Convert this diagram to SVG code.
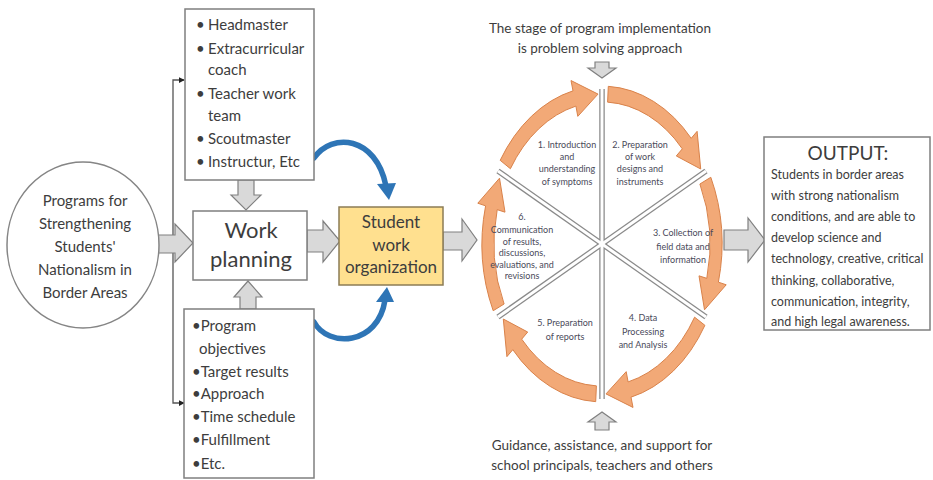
<svg xmlns="http://www.w3.org/2000/svg" width="933" height="480" viewBox="0 0 933 480">
<style>
text{font-family:Lato,"Liberation Sans",sans-serif;fill:#3d3d3d}
.box{fill:#fff;stroke:#7f7f7f;stroke-width:1.5}
.blk{fill:#d9d9d9;stroke:#808080;stroke-width:1.2}
.ln{fill:none;stroke:#555;stroke-width:1.3}
.blue{fill:none;stroke:#2e75b6;stroke-width:5.5;stroke-linecap:round}
.bh{fill:#2e75b6}
.seg{fill:#f2a977;stroke:#d9824a;stroke-width:1}
.spk{stroke:#8a8a8a;stroke-width:5.5}
.spw{stroke:#fff;stroke-width:3}
.st{font-size:9px;text-anchor:middle;fill:#4a4a5a}
.li{font-size:15px}
.oi{font-size:12.5px}
.c{text-anchor:middle}
</style>
<defs>
<marker id="ah" viewBox="0 0 8 8" refX="7" refY="4" markerWidth="6" markerHeight="6" orient="auto-start-reverse" markerUnits="userSpaceOnUse"><path d="M0,0 L8,4 L0,8 Z" fill="#222"/></marker>
</defs>

<g id="connectors">
<polyline class="ln" points="184,80 173,80 173,403 184,403" marker-start="url(#ah)" marker-end="url(#ah)"/>
<polygon class="blk" points="150,235 175,235 175,224 193,243 175,262 175,253 150,253"/>
<polygon class="blk" points="307,230 323,230 323,221 340,241 323,262 323,252 307,252"/>
<polygon class="blk" points="443,232 462,232 462,219 477,240 462,261 462,250 443,250"/>
<polygon class="blk" points="724,230 748,230 748,218 765,240 748,262 748,250 724,250"/>
<polygon class="blk" points="238,180 254,180 254,195 261,195 246,210 231,195 238,195"/>
<polygon class="blk" points="240,309 256,309 256,297 262,297 248,281 234,297 240,297"/>
<polygon class="blk" points="595,62 609,62 609,68 616,68 602,78 588,68 595,68"/>
<polygon class="blk" points="595,430 609,430 609,422 616,422 602,412 588,422 595,422"/>
<path class="blue" d="M314,158 C332,132 376,136 386,186"/>
<polygon class="bh" points="377,184 396,183 389,200"/>
<path class="blue" d="M314,322 C328,348 378,346 385,300"/>
<polygon class="bh" points="376,302 394,302 387,287"/>
</g>

<g id="programs">
<ellipse cx="83" cy="245" rx="76" ry="83" fill="#fff" stroke="#858585" stroke-width="1.5"/>
<text class="c" x="85" y="206" font-size="15">Programs for</text>
<text class="c" x="85" y="229" font-size="15">Strengthening</text>
<text class="c" x="85" y="252" font-size="15">Students'</text>
<text class="c" x="85" y="275" font-size="15">Nationalism in</text>
<text class="c" x="85" y="298" font-size="15">Border Areas</text>
</g>

<g id="actors">
<rect class="box" x="185" y="9" width="129" height="171"/>
<g class="li">
<text x="196" y="30">•</text><text x="208" y="30">Headmaster</text>
<text x="196" y="54">•</text><text x="208" y="54">Extracurricular</text>
<text x="208" y="75">coach</text>
<text x="196" y="99">•</text><text x="208" y="99">Teacher work</text>
<text x="208" y="121">team</text>
<text x="196" y="144">•</text><text x="208" y="144">Scoutmaster</text>
<text x="196" y="167">•</text><text x="208" y="167">Instructur, Etc</text>
</g>
</g>

<g id="work-planning">
<rect class="box" x="193" y="211" width="114" height="69"/>
<text class="c" x="251" y="238" font-size="22">Work</text>
<text class="c" x="251" y="267" font-size="22">planning</text>
</g>

<g id="plan-items">
<rect class="box" x="184" y="309" width="130" height="169"/>
<g class="li">
<text x="192" y="331">•Program</text>
<text x="199" y="354">objectives</text>
<text x="192" y="377">•Target results</text>
<text x="192" y="399">•Approach</text>
<text x="192" y="422">•Time schedule</text>
<text x="192" y="445">•Fulfillment</text>
<text x="192" y="469">•Etc.</text>
</g>
</g>

<g id="student-org">
<rect x="339" y="207" width="104" height="78" fill="#ffe08f" stroke="#8c7c55" stroke-width="1.5"/>
<text class="c" x="391" y="228" font-size="17">Student</text>
<text class="c" x="391" y="251" font-size="17">work</text>
<text class="c" x="391" y="273" font-size="17">organization</text>
</g>

<g id="top-note">
<text class="c" x="600" y="33" font-size="13.5">The stage of program implementation</text>
<text class="c" x="600" y="53" font-size="13.5">is problem solving approach</text>
</g>

<g id="bottom-note">
<text class="c" x="602" y="450" font-size="13.5">Guidance, assistance, and support for</text>
<text class="c" x="602" y="470" font-size="13.5">school principals, teachers and others</text>
</g>

<g id="cycle">
<g>
<line class="spk" x1="602" y1="244" x2="602" y2="89"/>
<line class="spk" x1="602" y1="244" x2="706" y2="171"/>
<line class="spk" x1="602" y1="244" x2="706" y2="317"/>
<line class="spk" x1="602" y1="244" x2="602" y2="399"/>
<line class="spk" x1="602" y1="244" x2="498" y2="317"/>
<line class="spk" x1="602" y1="244" x2="498" y2="171"/>
<line class="spw" x1="602" y1="244" x2="602" y2="89"/>
<line class="spw" x1="602" y1="244" x2="706" y2="171"/>
<line class="spw" x1="602" y1="244" x2="706" y2="317"/>
<line class="spw" x1="602" y1="244" x2="602" y2="399"/>
<line class="spw" x1="602" y1="244" x2="498" y2="317"/>
<line class="spw" x1="602" y1="244" x2="498" y2="171"/>
</g>
<g transform="translate(602,244) scale(1,1.316)">
<path class="seg" vector-effect="non-scaling-stroke" d="M-101.8,-63.6 A120,120 0 0 1 -29,-116.4 L-31,-124.2 L-4,-113.9 L-24.2,-97 L-26.1,-104.8 A108,108 0 0 0 -91.6,-57.2 Z"/>
<path class="seg" vector-effect="non-scaling-stroke" d="M6.3,-119.8 A120,120 0 0 1 89.2,-80.3 L95.1,-85.6 L98.7,-57 L74.3,-66.9 L80.3,-72.3 A108,108 0 0 0 5.6,-107.8 Z"/>
<path class="seg" vector-effect="non-scaling-stroke" d="M108.8,-50.7 A120,120 0 0 1 116.4,29 L124.2,31 L102.5,50 L97,24.2 L104.8,26.1 A108,108 0 0 0 97.9,-45.6 Z"/>
<path class="seg" vector-effect="non-scaling-stroke" d="M102.9,61.8 A120,120 0 0 1 29,116.4 L31,124.2 L4,113.9 L24.2,97 L26.1,104.8 A108,108 0 0 0 92.6,55.6 Z"/>
<path class="seg" vector-effect="non-scaling-stroke" d="M-6.3,119.8 A120,120 0 0 1 -89.2,80.3 L-95.1,85.6 L-98.7,57 L-74.3,66.9 L-80.3,72.3 A108,108 0 0 0 -5.6,107.8 Z"/>
<path class="seg" vector-effect="non-scaling-stroke" d="M-108.8,50.7 A120,120 0 0 1 -116.4,-29 L-124.2,-31 L-102.5,-50 L-97,-24.2 L-104.8,-26.1 A108,108 0 0 0 -97.9,45.6 Z"/>
</g>
<text class="st" x="567" y="148">1. Introduction</text>
<text class="st" x="567" y="160">and</text>
<text class="st" x="567" y="172">understanding</text>
<text class="st" x="567" y="185">of symptoms</text>
<text class="st" x="640" y="148">2. Preparation</text>
<text class="st" x="640" y="160">of work</text>
<text class="st" x="640" y="172">designs and</text>
<text class="st" x="640" y="185">instruments</text>
<text class="st" x="683" y="236">3. Collection of</text>
<text class="st" x="683" y="250">field data and</text>
<text class="st" x="683" y="263">information</text>
<text class="st" x="643" y="321">4. Data</text>
<text class="st" x="643" y="335">Processing</text>
<text class="st" x="643" y="348">and Analysis</text>
<text class="st" x="565" y="326">5. Preparation</text>
<text class="st" x="565" y="340">of reports</text>
<text class="st" x="522" y="220">6.</text>
<text class="st" x="522" y="233">Communication</text>
<text class="st" x="522" y="245">of results,</text>
<text class="st" x="522" y="256">discussions,</text>
<text class="st" x="522" y="268">evaluations, and</text>
<text class="st" x="522" y="279">revisions</text>
</g>

<g id="output">
<rect class="box" x="764" y="137" width="166" height="193"/>
<text class="c" x="848" y="160" font-size="19">OUTPUT:</text>
<g class="oi">
<text x="771" y="179">Students in border areas</text>
<text x="771" y="200">with strong nationalism</text>
<text x="771" y="221">conditions, and are able to</text>
<text x="771" y="242">develop science and</text>
<text x="771" y="263">technology, creative, critical</text>
<text x="771" y="285">thinking, collaborative,</text>
<text x="771" y="306">communication, integrity,</text>
<text x="771" y="326">and high legal awareness.</text>
</g>
</g>
</svg>
